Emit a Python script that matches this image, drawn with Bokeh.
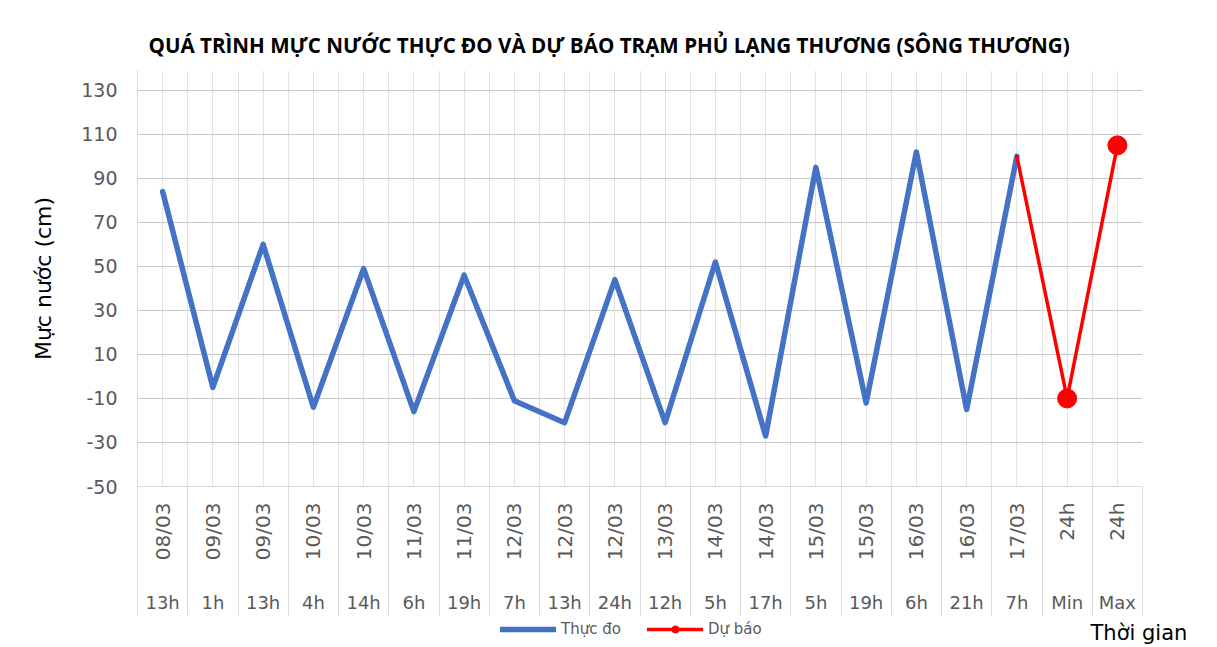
import math
from bokeh.plotting import figure
from bokeh.layouts import column
from bokeh.models import (LinearAxis, FixedTicker, Grid, Range1d, Title, Legend,
                          LegendItem, ColumnDataSource, Label)
from bokeh.embed import file_html
from bokeh.resources import INLINE

# ---------------- data ----------------
title_text = "QUÁ TRÌNH MỰC NƯỚC THỰC ĐO VÀ DỰ BÁO TRẠM PHỦ LẠNG THƯƠNG (SÔNG THƯƠNG)"
date_labels = ["08/03", "09/03", "09/03", "10/03", "10/03", "11/03", "11/03", "12/03",
               "12/03", "12/03", "13/03", "14/03", "14/03", "15/03", "15/03", "16/03",
               "16/03", "17/03", "24h", "24h"]
hour_labels = ["13h", "1h", "13h", "4h", "14h", "6h", "19h", "7h", "13h", "24h",
               "12h", "5h", "17h", "5h", "19h", "6h", "21h", "7h", "Min", "Max"]
measured = [84, -5, 60, -14, 49, -16, 46, -11, -21, 44, -21, 52, -27, 95, -12, 102, -15, 100]
forecast = [100, -10, 105]          # 17/03 7h (last measured), Min, Max
y_ticks = [-50, -30, -10, 10, 30, 50, 70, 90, 110, 130]
series_names = ["Thực đo", "Dự báo"]
x_title = "Thời gian"
y_title = "Mực nước (cm)"

n_cat = len(date_labels)
measured_x = list(range(len(measured)))
forecast_x = list(range(len(measured) - 1, len(measured) - 1 + len(forecast)))

BLUE = "#4472C4"
RED = "#FF0000"
GRID_H = "#c8c8c8"
GRID_V = "#e3e3e3"
SEP = "#d9d9d9"
TXT = "#595959"

W = 1215
H_MAIN = 618
H_FOOT = 27

p = figure(width=W, height=H_MAIN, output_backend="svg", toolbar_location=None,
           x_axis_type=None, y_axis_type=None,
           x_range=Range1d(-0.5, n_cat - 0.5), y_range=Range1d(-50, 139),
           min_border_left=137, min_border_right=73, min_border_top=70,
           min_border_bottom=H_MAIN - 486, outline_line_color=None)
p.title = None

# title (above)
p.add_layout(Title(text=title_text, align="left", offset=11, standoff=24,
                   text_font="Open Sans", text_font_style="bold",
                   text_font_size="20.6px", text_color="#000000"), "above")

# x ticker: centres (labels) and boundaries (separators / grid)
xt = FixedTicker(ticks=list(range(n_cat)),
                 minor_ticks=[i - 0.5 for i in range(n_cat + 1)])
yt = FixedTicker(ticks=y_ticks, minor_ticks=[])

# grids
xg = Grid(dimension=0, ticker=xt, grid_line_color=GRID_V, grid_line_width=1,
          minor_grid_line_color=GRID_V, minor_grid_line_width=1)
yg = Grid(dimension=1, ticker=yt, grid_line_color=GRID_H, grid_line_width=1)
p.add_layout(xg)
p.add_layout(yg)

# y axis
yax = LinearAxis(ticker=yt, axis_label=y_title,
                 major_label_overrides={v: str(v) for v in y_ticks},
                 axis_line_color=SEP, major_tick_out=0, major_tick_in=0,
                 minor_tick_out=0, minor_tick_in=0,
                 major_label_standoff=20,
                 major_label_text_font="DejaVu Sans", major_label_text_font_size="19px",
                 major_label_text_color=TXT,
                 axis_label_text_font="DejaVu Sans", axis_label_text_font_size="22px",
                 axis_label_text_font_style="normal", axis_label_text_color="#000000",
                 axis_label_standoff=22)
p.add_layout(yax, "left")

# date axis (first level, vertical) with long separators
SEP_LEN = 129
dax = LinearAxis(ticker=xt,
                 major_label_overrides={i: d for i, d in enumerate(date_labels)},
                 major_label_orientation=math.pi / 2,
                 axis_line_color=SEP, axis_line_width=1,
                 major_tick_out=0, major_tick_in=0,
                 minor_tick_out=SEP_LEN, minor_tick_in=0, minor_tick_line_color=SEP,
                 major_label_standoff=16 - SEP_LEN,
                 major_label_text_font="DejaVu Sans", major_label_text_font_size="20px",
                 major_label_text_color=TXT)
p.add_layout(dax, "below")

# hour axis (second level)
hax = LinearAxis(ticker=xt,
                 major_label_overrides={i: h for i, h in enumerate(hour_labels)},
                 axis_line_color=None, major_tick_line_color=None,
                 minor_tick_line_color=None, major_tick_out=0, major_tick_in=0,
                 minor_tick_out=0, minor_tick_in=0,
                 major_label_standoff=28,
                 major_label_text_font="DejaVu Sans", major_label_text_font_size="18px",
                 major_label_text_color=TXT)
p.add_layout(hax, "below")

# series
src_m = ColumnDataSource(dict(x=measured_x, y=measured))
src_f = ColumnDataSource(dict(x=forecast_x, y=forecast))
src_fm = ColumnDataSource(dict(x=forecast_x[1:], y=forecast[1:]))

line_m = dict(line_color=BLUE, line_width=5.5, line_join="round", line_cap="round")
line_f = dict(line_color=RED, line_width=3.5, line_join="round", line_cap="round")
mark_f = dict(size=19, marker="circle", fill_color=RED, line_color=RED)

p.line("x", "y", source=src_m, **line_m)
p.line("x", "y", source=src_f, **line_f)
p.scatter("x", "y", source=src_fm, **mark_f)

# ---------------- footer strip: legend + x-axis title ----------------
# same series, drawn outside this strip's visible range: only the legend swatches show
foot = figure(width=W, height=H_FOOT, output_backend="svg", toolbar_location=None,
              x_axis_type=None, y_axis_type=None,
              x_range=Range1d(-200, -199), y_range=Range1d(-500, -499),
              min_border=0, outline_line_color=None)
foot.title = None
foot.xgrid.visible = False
foot.ygrid.visible = False

frame_left = 0
try:
    foot.frame_align = False          # keep this strip's frame full-width
except Exception:
    frame_left = 137                  # frame aligned with the main plot

g_m = foot.line("x", "y", source=src_m, **line_m)
g_f = foot.line("x", "y", source=src_f, **line_f)
g_fm = foot.scatter("x", "y", source=src_fm, **mark_f)

legend = Legend(items=[LegendItem(label=series_names[0], renderers=[g_m]),
                       LegendItem(label=series_names[1], renderers=[g_f, g_fm])],
                location=(500 - frame_left, 7), orientation="horizontal",
                padding=0, margin=0, spacing=26, glyph_width=56, glyph_height=18,
                label_standoff=5, label_text_font="DejaVu Sans",
                label_text_font_size="15px", label_text_color=TXT,
                background_fill_alpha=0, border_line_alpha=0)
foot.add_layout(legend, "center")

foot.add_layout(Label(x=1090 - frame_left, y=13, x_units="screen", y_units="screen",
                      text=x_title, text_align="left", text_baseline="middle",
                      text_font="DejaVu Sans", text_font_size="21px",
                      text_color="#000000"))

open("out.html", "w").write(file_html(column(p, foot, spacing=0), INLINE))
